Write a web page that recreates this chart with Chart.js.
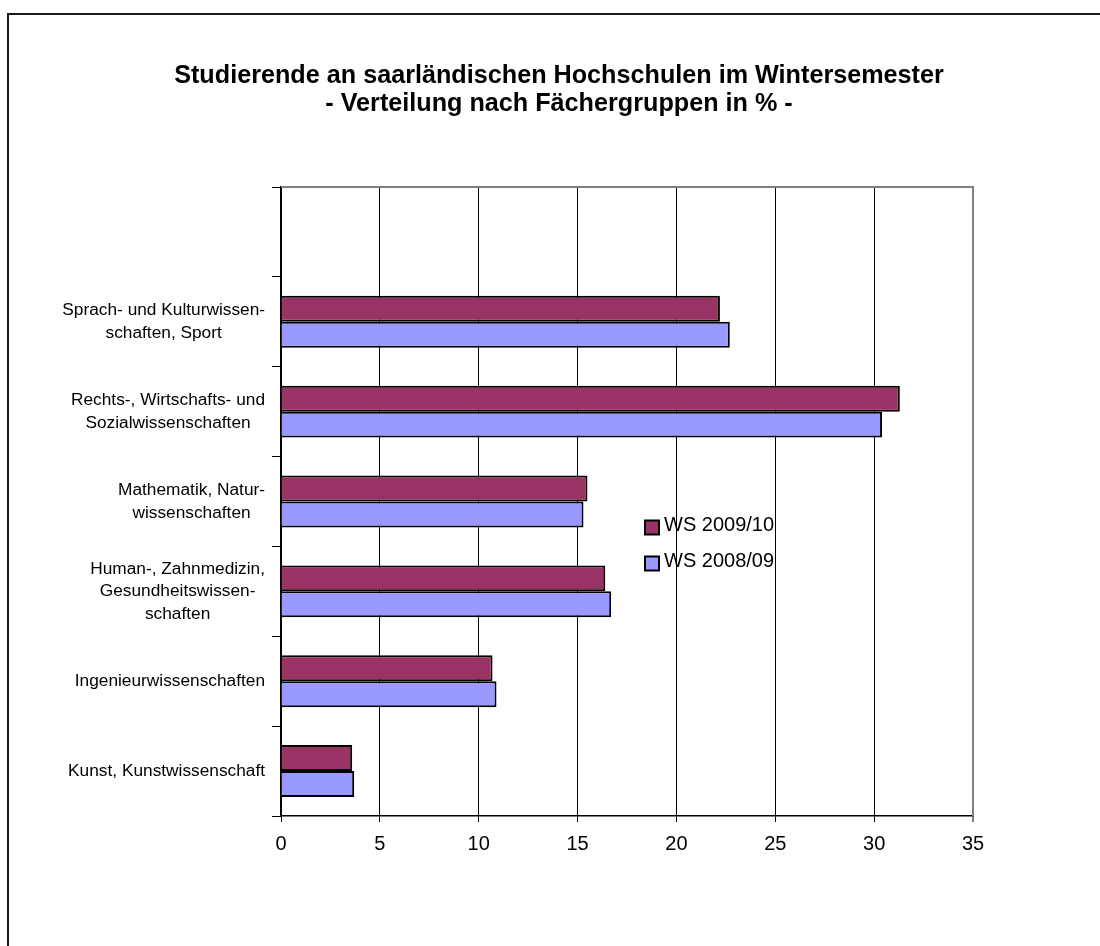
<!DOCTYPE html>
<html><head><meta charset="utf-8">
<script src="https://cdn.jsdelivr.net/npm/chart.js@4/dist/chart.umd.min.js"></script>
<style>
html,body{margin:0;padding:0;background:#fff;overflow:hidden;}
#wrap{position:relative;width:1100px;height:946px;}
#frame{position:absolute;left:7px;top:13px;width:1200px;height:1000px;border-left:2px solid #1a1a1a;border-top:2px solid #1a1a1a;}
canvas{position:absolute;left:0;top:0;}
</style></head><body>
<div id="wrap"><div id="frame"></div><canvas id="c" width="1100" height="946"></canvas></div>
<script>
const FONT = "'Liberation Sans', Arial, Helvetica, sans-serif";

const categories = [
  '',
  ['Sprach- und Kulturwissen-', 'schaften, Sport'],
  ['Rechts-, Wirtschafts- und', 'Sozialwissenschaften'],
  ['Mathematik, Natur-', 'wissenschaften'],
  ['Human-, Zahnmedizin,', 'Gesundheitswissen-', 'schaften'],
  'Ingenieurwissenschaften',
  'Kunst, Kunstwissenschaft'
];
const seriesNames = ['WS 2009/10', 'WS 2008/09'];
const ws200910 = [null, 22.2, 31.3, 15.5, 16.4, 10.7, 3.6];
const ws200809 = [null, 22.7, 30.4, 15.3, 16.7, 10.9, 3.7];
const xTicks = [0, 5, 10, 15, 20, 25, 30, 35];
const titleLines = [
  'Studierende an saarländischen Hochschulen im Wintersemester',
  '- Verteilung nach Fächergruppen in % -'
];

const catLabelPlugin = {
  id: 'catLabels',
  afterDraw(chart) {
    const s = chart.scales.y, ctx = chart.ctx;
    ctx.save();
    ctx.font = '17.3px ' + FONT;
    ctx.fillStyle = '#000';
    ctx.textAlign = 'center';
    ctx.textBaseline = 'middle';
    categories.forEach((lab, i) => {
      const lines = Array.isArray(lab) ? lab : [lab];
      if (!lines[0]) return;
      const w = Math.max(...lines.map(l => ctx.measureText(l).width));
      const cx = s.right - 16 - w / 2;
      const cy = s.getPixelForValue(i);
      const lh = 22.5;
      lines.forEach((l, j) => ctx.fillText(l, cx, cy + (j - (lines.length - 1) / 2) * lh));
    });
    ctx.restore();
  }
};

const borderPlugin = {
  id: 'plotBorder',
  beforeDatasetsDraw(chart) {
    const a = chart.chartArea, ctx = chart.ctx;
    ctx.save();
    ctx.strokeStyle = '#808080';
    ctx.lineWidth = 2;
    ctx.beginPath();
    ctx.moveTo(a.left, a.top);
    ctx.lineTo(a.right, a.top);
    ctx.lineTo(a.right, a.bottom);
    ctx.stroke();
    ctx.restore();
  }
};

const legendPlugin = {
  id: 'innerLegend',
  afterDraw(chart) {
    const ctx = chart.ctx;
    ctx.save();
    ctx.font = '20px ' + FONT;
    ctx.textBaseline = 'middle';
    ctx.textAlign = 'left';
    const x0 = 645, ys = [527.5, 563.5];
    chart.data.datasets.forEach((ds, i) => {
      const y = ys[i];
      ctx.fillStyle = ds.backgroundColor;
      ctx.fillRect(x0, y - 7, 14, 14);
      ctx.strokeStyle = '#000';
      ctx.lineWidth = 2;
      ctx.strokeRect(x0, y - 7, 14, 14);
      ctx.fillStyle = '#000';
      ctx.fillText(ds.label, x0 + 19, y - 2);
    });
    ctx.restore();
  }
};

new Chart(document.getElementById('c'), {
  type: 'bar',
  data: {
    labels: categories,
    datasets: [
      { label: seriesNames[0], data: ws200910, backgroundColor: '#993366', borderColor: '#000', borderWidth: 2 },
      { label: seriesNames[1], data: ws200809, backgroundColor: '#9999FF', borderColor: '#000', borderWidth: 2 }
    ]
  },
  options: {
    indexAxis: 'y',
    responsive: false,
    animation: false,
    devicePixelRatio: 1,
    categoryPercentage: 0.578,
    barPercentage: 1.0,
    layout: { padding: { left: 18, right: 0, top: 0, bottom: 0 } },
    plugins: {
      legend: { display: false },
      tooltip: { enabled: false },
      title: {
        display: true,
        text: titleLines,
        color: '#000',
        font: { family: FONT, size: 25.2, weight: 'bold', lineHeight: 28 / 25.2 },
        padding: { top: 62.2, bottom: 68.8 }
      }
    },
    scales: {
      x: {
        type: 'linear',
        min: 0, max: 35,
        afterBuildTicks(s) { s.ticks = xTicks.map(v => ({ value: v })); },
        afterFit(s) { s.height = 130; },
        ticks: { color: '#000', font: { family: FONT, size: 20 }, padding: 10 },
        grid: {
          color: (c) => (c.tick && c.tick.value === 35) ? '#808080' : '#000',
          lineWidth: (c) => (c.tick && c.tick.value === 35) ? 2 : 1,
          tickLength: 6,
          drawTicks: true
        },
        border: { display: true, color: '#000', width: 1.5 }
      },
      y: {
        type: 'category',
        afterFit(s) { s.width = 263; },
        ticks: { display: false },
        grid: { display: true, drawOnChartArea: false, drawTicks: true, tickLength: 9, color: '#000', offset: true },
        border: { display: true, color: '#000', width: 1.5 }
      },
      yR: {
        type: 'linear',
        position: 'right',
        display: true,
        afterFit(s) { s.width = 127; },
        ticks: { display: false },
        grid: { display: false },
        border: { display: false }
      }
    }
  },
  plugins: [borderPlugin, catLabelPlugin, legendPlugin]
});
</script>
</body></html>
